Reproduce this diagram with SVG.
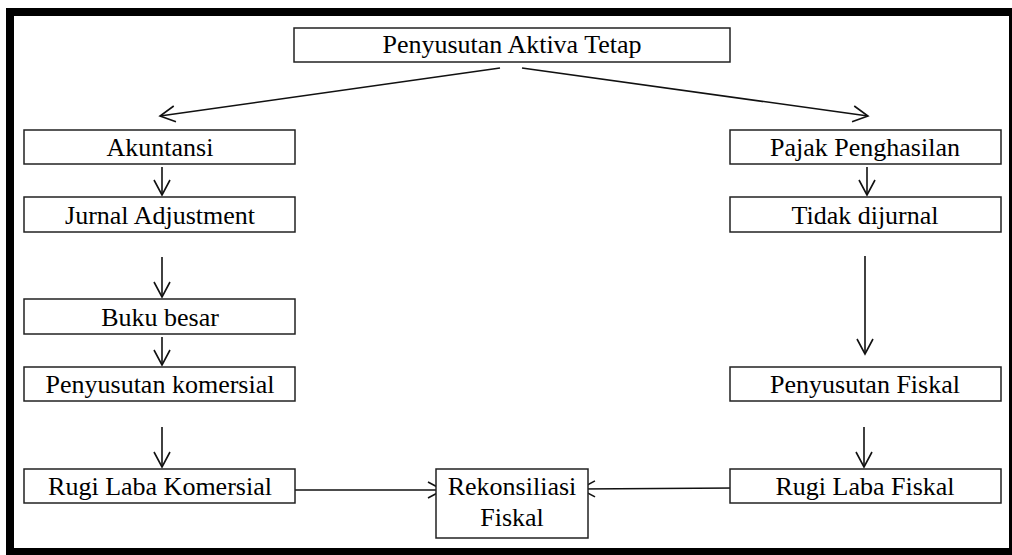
<svg xmlns="http://www.w3.org/2000/svg" width="1012" height="555" viewBox="0 0 1012 555">
  <style>
    .box { fill: #ffffff; stroke: #222222; stroke-width: 1.5; }
    .lbl { font-family: "Liberation Serif", "Times New Roman", serif; font-size: 26px; fill: #000000; text-anchor: middle; }
    .conn { fill: none; stroke: #111111; stroke-width: 1.6; marker-end: url(#arrow); }
  </style>
  <defs>
    <marker id="arrow" markerUnits="userSpaceOnUse" markerWidth="20" markerHeight="20" viewBox="-18 -10 20 20" refX="0" refY="0" orient="auto">
      <path d="M -15 -8 L 0 0 L -15 8" fill="none" stroke="#111111" stroke-width="1.6"/>
    </marker>
  </defs>

  <rect x="0" y="0" width="1012" height="555" fill="#ffffff"/>
  <!-- outer frame -->
  <rect x="10" y="12" width="1003" height="540" fill="none" stroke="#000000" stroke-width="8"/>

  <g id="connectors">
    <line class="conn" x1="500" y1="68" x2="160" y2="116"/>
    <line class="conn" x1="522" y1="68" x2="868" y2="116"/>
    <line class="conn" x1="162" y1="167" x2="162" y2="195"/>
    <line class="conn" x1="162" y1="257" x2="162" y2="297"/>
    <line class="conn" x1="162" y1="337" x2="162" y2="365"/>
    <line class="conn" x1="162" y1="427" x2="162" y2="467"/>
    <line class="conn" x1="867" y1="167" x2="867" y2="195"/>
    <line class="conn" x1="865" y1="256" x2="865" y2="354"/>
    <line class="conn" x1="864" y1="427" x2="864" y2="467"/>
    <line class="conn" x1="285" y1="490" x2="443" y2="490"/>
    <line class="conn" x1="735" y1="488" x2="580" y2="489"/>
  </g>

  <g id="node-penyusutan-aktiva-tetap">
    <rect class="box" x="294" y="28" width="436" height="34"/>
    <text class="lbl" x="512" y="53">Penyusutan Aktiva Tetap</text>
  </g>
  <g id="node-akuntansi">
    <rect class="box" x="24" y="130" width="271" height="34"/>
    <text class="lbl" x="160" y="156">Akuntansi</text>
  </g>
  <g id="node-jurnal-adjustment">
    <rect class="box" x="24" y="197" width="271" height="35"/>
    <text class="lbl" x="160" y="224">Jurnal Adjustment</text>
  </g>
  <g id="node-buku-besar">
    <rect class="box" x="24" y="299" width="271" height="35"/>
    <text class="lbl" x="160" y="326">Buku besar</text>
  </g>
  <g id="node-penyusutan-komersial">
    <rect class="box" x="24" y="367" width="271" height="34"/>
    <text class="lbl" x="160" y="393">Penyusutan komersial</text>
  </g>
  <g id="node-rugi-laba-komersial">
    <rect class="box" x="24" y="469" width="271" height="34"/>
    <text class="lbl" x="160" y="495">Rugi Laba Komersial</text>
  </g>
  <g id="node-pajak-penghasilan">
    <rect class="box" x="730" y="130" width="271" height="34"/>
    <text class="lbl" x="865" y="156">Pajak Penghasilan</text>
  </g>
  <g id="node-tidak-dijurnal">
    <rect class="box" x="730" y="197" width="271" height="35"/>
    <text class="lbl" x="865" y="224">Tidak dijurnal</text>
  </g>
  <g id="node-penyusutan-fiskal">
    <rect class="box" x="730" y="367" width="271" height="34"/>
    <text class="lbl" x="865" y="393">Penyusutan Fiskal</text>
  </g>
  <g id="node-rugi-laba-fiskal">
    <rect class="box" x="730" y="469" width="271" height="34"/>
    <text class="lbl" x="865" y="495">Rugi Laba Fiskal</text>
  </g>
  <g id="node-rekonsiliasi-fiskal">
    <rect class="box" x="436" y="469" width="152" height="69"/>
    <text class="lbl" x="512" y="495">Rekonsiliasi</text>
    <text class="lbl" x="512" y="526">Fiskal</text>
  </g>
</svg>
